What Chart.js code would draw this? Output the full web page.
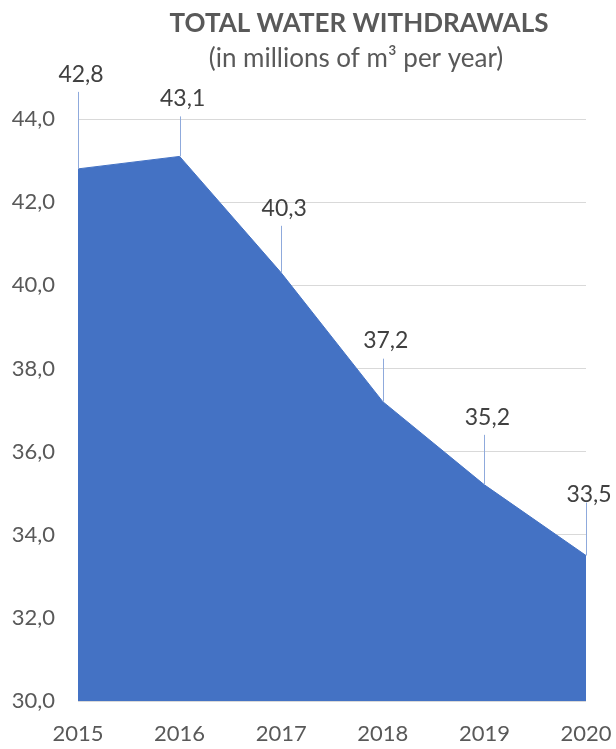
<!DOCTYPE html>
<html>
<head>
<meta charset="utf-8">
<script src="https://cdn.jsdelivr.net/npm/chart.js@4/dist/chart.umd.min.js"></script>
<style>
  html, body { margin: 0; padding: 0; background: #fff; }
</style>
</head>
<body>
<canvas id="myChart" width="616" height="749"></canvas>
<script>
// data
var years = ['2015', '2016', '2017', '2018', '2019', '2020'];
var withdrawals = [42.8, 43.1, 40.3, 37.2, 35.2, 33.5];
var yTicks = [30, 32, 34, 36, 38, 40, 42, 44];

// leader line length and gap above it for each label (px), just styling
var leaderLength = [77, 40, 47, 43, 50, 53];
var labelGap = [10, 10, 10, 11, 10, 1];

var FONT = 'Lato, "Open Sans", sans-serif';

function fmt(v) {
  return v.toFixed(1).replace('.', ',');
}

// title + data labels with leader lines, like the Excel original
var decorations = {
  id: 'decorations',
  afterDatasetsDraw: function (chart) {
    var ctx = chart.ctx;
    var meta = chart.getDatasetMeta(0);
    ctx.save();
    meta.data.forEach(function (pt, i) {
      var x = Math.round(pt.x) + 0.5;
      var top = pt.y - leaderLength[i];
      ctx.strokeStyle = '#8faadc';
      ctx.lineWidth = 1;
      ctx.beginPath();
      ctx.moveTo(x, pt.y);
      ctx.lineTo(x, top);
      ctx.stroke();

      ctx.fillStyle = '#404040';
      ctx.font = '23px ' + FONT;
      ctx.textAlign = 'center';
      ctx.textBaseline = 'alphabetic';
      ctx.fillText(fmt(withdrawals[i]), pt.x + 3, top - labelGap[i]);
    });

    ctx.fillStyle = '#595959';
    ctx.textAlign = 'center';
    ctx.textBaseline = 'alphabetic';
    ctx.font = 'bold 26px ' + FONT;
    ctx.fillText('TOTAL WATER WITHDRAWALS', 359, 32);
    ctx.font = '26px ' + FONT;
    ctx.fillText('(in millions of m\u00b3 per year)', 356, 67);
    ctx.restore();
  }
};

var ctx = document.getElementById('myChart').getContext('2d');
var myChart = new Chart(ctx, {
  type: 'line',
  data: {
    labels: years,
    datasets: [{
      data: withdrawals,
      fill: 'start',
      backgroundColor: '#4472c4',
      borderColor: '#4472c4',
      borderWidth: 1,
      pointRadius: 0,
      tension: 0
    }]
  },
  options: {
    responsive: false,
    animation: false,
    layout: {
      padding: { top: 119, right: 30, left: 0, bottom: 0 }
    },
    plugins: {
      legend: { display: false },
      title: { display: false },
      tooltip: { enabled: false }
    },
    scales: {
      x: {
        offset: false,
        grid: { display: false, drawTicks: false },
        border: { display: false },
        ticks: {
          color: '#595959',
          font: { family: FONT, size: 22 },
          padding: 20,
          maxRotation: 0,
          autoSkip: false
        },
        afterFit: function (scale) {
          scale.height = 48;
          scale.paddingLeft = 0;
          scale.paddingRight = 0;
        }
      },
      y: {
        min: 30,
        max: 44,
        afterBuildTicks: function (scale) {
          scale.ticks = yTicks.map(function (v) { return { value: v }; });
        },
        grid: {
          drawTicks: false,
          color: '#d9d9d9'
        },
        border: { display: true, color: '#d9d9d9' },
        ticks: {
          color: '#595959',
          font: { family: FONT, size: 22 },
          padding: 23,
          callback: function (v) { return fmt(v); }
        },
        afterFit: function (scale) {
          scale.width = 78;
          scale.paddingTop = 0;
          scale.paddingBottom = 0;
        }
      }
    }
  },
  plugins: [decorations]
});
</script>
</body>
</html>
